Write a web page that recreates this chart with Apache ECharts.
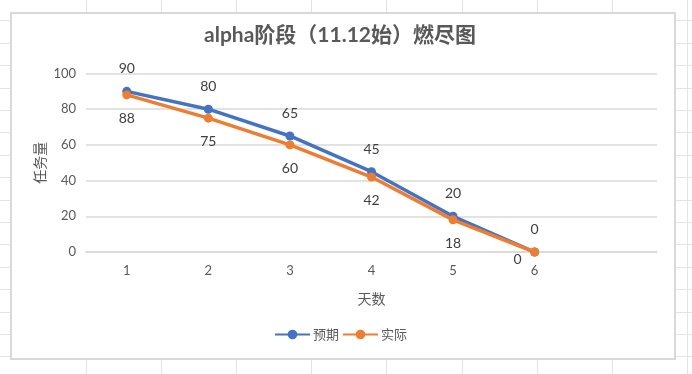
<!DOCTYPE html>
<html>
<head>
<meta charset="utf-8">
<script src="https://cdn.jsdelivr.net/npm/echarts@6/dist/echarts.min.js"></script>
<style>
  html, body { margin: 0; padding: 0; }
  body {
    width: 692px; height: 374px; overflow: hidden; position: relative;
    background-color: #ffffff;
    background-image:
      repeating-linear-gradient(to right, transparent 0, transparent 74.1px, #e3e3e3 74.1px, #e3e3e3 75.1px),
      repeating-linear-gradient(to bottom, transparent 0, transparent 21.4px, #e3e3e3 21.4px, #e3e3e3 22.4px);
    background-position: 12px 0, 0 -1px;
  }
  #box {
    position: absolute; left: 10px; top: 12px; width: 662px; height: 344px;
    background: #ffffff; border: 2px solid #d9d9d9;
  }
  #chart { position: absolute; left: 0; top: 0; width: 692px; height: 374px; }
</style>
</head>
<body>
<div id="box"></div>
<div id="chart"></div>
<script>
const categories = ['1', '2', '3', '4', '5', '6', ''];
const planned = [90, 80, 65, 45, 20, 0, null];
const actual = [88, 75, 60, 42, 18, 0, null];
const yTicks = { min: 0, max: 100, interval: 20 };

const latin = "Lato, 'Noto Sans CJK SC', sans-serif";
const cjk = "'Noto Sans CJK SC', sans-serif";

const chart = echarts.init(document.getElementById('chart'), null, { renderer: 'canvas' });
chart.setOption({
  backgroundColor: 'transparent',
  animation: false,
  title: {
    text: 'alpha阶段（11.12始）燃尽图',
    left: 204,
    top: 25,
    padding: 0,
    textStyle: { fontFamily: latin, fontSize: 21, fontWeight: 'bold', color: '#595959' }
  },
  grid: { left: 86, right: 35, top: 73.5, bottom: 122, containLabel: false },
  xAxis: {
    type: 'category',
    data: categories,
    boundaryGap: true,
    name: '天数',
    nameLocation: 'middle',
    nameGap: 40,
    nameMoveOverlap: false,
    nameTextStyle: { fontFamily: cjk, fontSize: 14, color: '#595959' },
    axisLine: { lineStyle: { color: '#d9d9d9', width: 1.5 } },
    axisTick: { show: false },
    axisLabel: { margin: 12, fontFamily: latin, fontSize: 13, color: '#595959' },
    splitLine: { show: false }
  },
  yAxis: {
    type: 'value',
    min: yTicks.min, max: yTicks.max, interval: yTicks.interval,
    name: '任务量',
    nameLocation: 'middle',
    nameGap: 39,
    nameMoveOverlap: false,
    nameRotate: 90,
    nameTextStyle: { fontFamily: cjk, fontSize: 14, color: '#595959' },
    axisLine: { show: false },
    axisTick: { show: false },
    axisLabel: { margin: 10, fontFamily: latin, fontSize: 13, color: '#595959' },
    splitLine: { lineStyle: { color: '#d9d9d9', width: 1.5 } }
  },
  legend: {
    bottom: 33,
    left: 274,
    padding: 0,
    itemWidth: 35,
    itemHeight: 12,
    itemGap: 3,
    textStyle: { fontFamily: cjk, fontSize: 13, color: '#595959', padding: [0, 0, 0, -2] },
    data: ['预期', '实际']
  },
  series: [
    {
      name: '预期',
      type: 'line',
      data: planned,
      color: '#4472C4',
      symbol: 'circle',
      symbolSize: 9,
      lineStyle: { width: 3.5 },
      z: 3,
      label: {
        show: true, position: 'top', distance: 11,
        fontFamily: latin, fontSize: 14, color: '#404040'
      }
    },
    {
      name: '实际',
      type: 'line',
      data: actual,
      color: '#ED7D31',
      symbol: 'circle',
      symbolSize: 9,
      lineStyle: { width: 3.5 },
      z: 4,
      label: {
        show: true, position: 'bottom', distance: 12,
        fontFamily: latin, fontSize: 14, color: '#404040'
      },
      labelLayout: function (params) {
        if (params.dataIndex === 5) {
          return { dx: -17, dy: -16 };
        }
        return {};
      }
    }
  ]
});
</script>
</body>
</html>
